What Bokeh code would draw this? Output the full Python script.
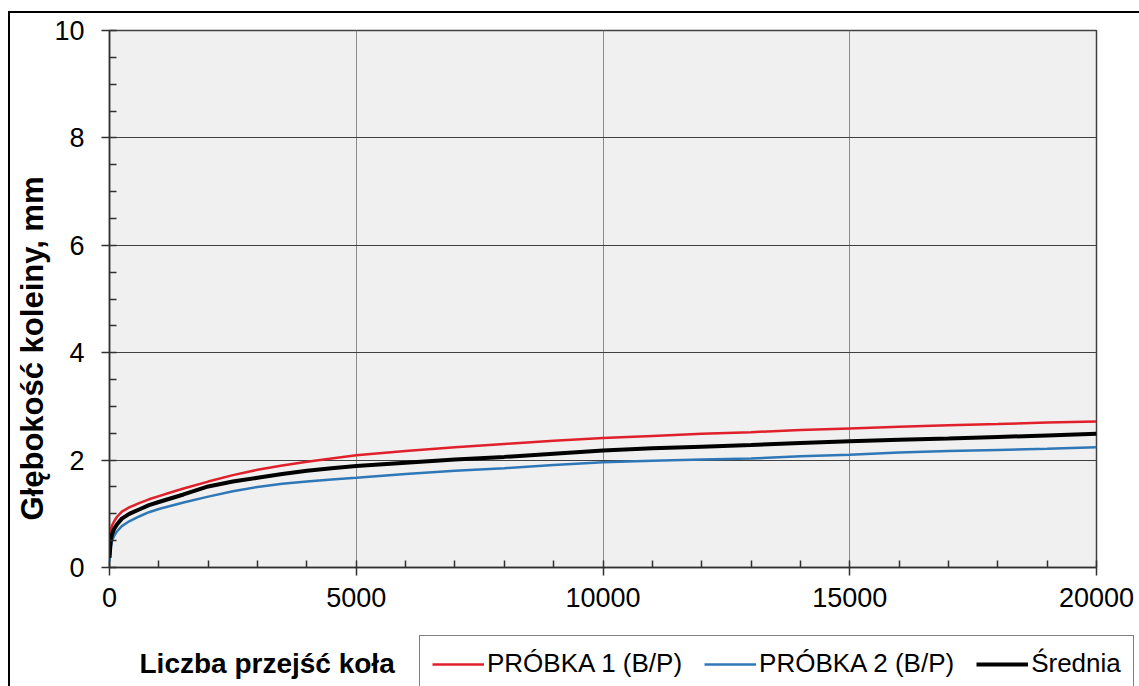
from bokeh.plotting import figure
from bokeh.models import (Range1d, SingleIntervalTicker, Legend, LegendItem, Label, Title, Spacer)
from bokeh.layouts import column, row
from bokeh.embed import file_html
from bokeh.resources import INLINE

# ---- data ----
passes = [0, 25, 50, 100, 150, 250, 400, 600, 800, 1000, 1250, 1500, 2000, 2500, 3000, 3500,
          4000, 4500, 5000, 6000, 7000, 8000, 9000, 10000, 11000, 12000, 13000, 14000,
          15000, 16000, 17000, 18000, 19000, 20000]
probka1 = [0.55, 0.70, 0.78, 0.87, 0.94, 1.04, 1.12, 1.20, 1.27, 1.33, 1.40, 1.47, 1.60, 1.72,
           1.82, 1.90, 1.97, 2.03, 2.09, 2.17, 2.24, 2.30, 2.36, 2.41, 2.45, 2.49, 2.52, 2.56,
           2.59, 2.62, 2.65, 2.67, 2.70, 2.72]
probka2 = [0.12, 0.38, 0.50, 0.60, 0.67, 0.77, 0.86, 0.95, 1.03, 1.09, 1.15, 1.21, 1.32, 1.42,
           1.50, 1.56, 1.60, 1.64, 1.67, 1.74, 1.80, 1.85, 1.91, 1.96, 1.99, 2.01, 2.03, 2.07,
           2.10, 2.14, 2.17, 2.19, 2.21, 2.24]
srednia = [0.18, 0.50, 0.62, 0.73, 0.80, 0.91, 1.00, 1.08, 1.16, 1.22, 1.29, 1.36, 1.51, 1.60,
           1.67, 1.74, 1.80, 1.85, 1.89, 1.95, 2.01, 2.06, 2.12, 2.18, 2.22, 2.25, 2.28, 2.32,
           2.35, 2.38, 2.40, 2.43, 2.46, 2.49]
series = [probka1, probka2, srednia]
series_names = ["PRÓBKA 1 (B/P)", "PRÓBKA 2 (B/P)", "Średnia"]
series_colors = ["#E0202A", "#2F78B8", "black"]
series_widths = [2.5, 2.5, 4]
x_title = "Liczba przejść koła"
y_title = "Głębokość koleiny, mm"

FONT = "Liberation Sans"

# ---------------- main chart ----------------
p = figure(width=1129, height=607, output_backend="svg", toolbar_location=None,
           x_range=Range1d(0, 20000), y_range=Range1d(0, 10),
           min_border_left=97, min_border_right=43, min_border_top=17, min_border_bottom=53)
p.background_fill_color = "#F0F0F0"
p.border_fill_color = "white"
p.outline_line_color = "#404040"
p.outline_line_width = 1.5

p.xaxis.ticker = SingleIntervalTicker(interval=5000, num_minor_ticks=5)
p.yaxis.ticker = SingleIntervalTicker(interval=2, num_minor_ticks=4)
for ax in (p.xaxis[0], p.yaxis[0]):
    ax.axis_line_color = "#303030"
    ax.axis_line_width = 1.5
    ax.major_tick_line_color = "#303030"
    ax.major_tick_line_width = 1.5
    ax.minor_tick_line_color = "#303030"
    ax.minor_tick_line_width = 1.5
    ax.major_tick_in = 0
    ax.major_tick_out = 8
    ax.minor_tick_in = 7
    ax.minor_tick_out = 0
    ax.major_label_text_font = FONT
    ax.major_label_text_font_size = "27px"
    ax.major_label_text_color = "black"
p.yaxis.major_label_standoff = 17
p.xaxis.major_label_standoff = 12

p.xgrid.grid_line_color = "#8a8a8a"
p.xgrid.grid_line_width = 1
p.ygrid.grid_line_color = "#404040"
p.ygrid.grid_line_width = 1

for ys, col, w in zip(series, series_colors, series_widths):
    p.line(passes, ys, line_color=col, line_width=w)

p.add_layout(Title(text=y_title, align="left", offset=47, text_font=FONT,
                   text_font_style="bold", text_font_size="31px", text_color="black",
                   standoff=4), "left")

# ---------------- bottom strip: axis title + legend ----------------
# (separate root so that its frame is not aligned to the chart's frame)
q = figure(width=1129, height=66, output_backend="svg", toolbar_location=None,
           x_range=Range1d(-2, -1), y_range=Range1d(-2, -1),
           x_axis_location=None, y_axis_location=None,
           min_border=0, min_border_left=0, min_border_right=0,
           min_border_top=0, min_border_bottom=0)
q.outline_line_color = None
q.background_fill_color = "white"
q.border_fill_color = "white"
q.xgrid.visible = False
q.ygrid.visible = False

items = []
for ys, name, col, w in zip(series, series_names, series_colors, series_widths):
    # legend proxies: same series, outside this strip's visible range
    r = q.line(passes, ys, line_color=col, line_width=w)
    items.append(LegendItem(label=name, renderers=[r]))

legend = Legend(items=items, orientation="horizontal", location=(409, -6), margin=0,
                padding=12, spacing=22, label_standoff=3,
                glyph_width=52, glyph_height=22, label_height=22,
                label_text_font=FONT, label_text_font_size="26px", label_text_color="black",
                border_line_color="black", border_line_width=1.5,
                background_fill_color="white", background_fill_alpha=1)
q.add_layout(legend)

q.add_layout(Label(x=129, y=23, x_units="screen", y_units="screen", text=x_title,
                   text_font=FONT, text_font_style="bold", text_font_size="28px",
                   text_align="left", text_baseline="middle", text_color="black"))

# ---------------- outer frame (left and top black edges) ----------------
root1 = column(
    Spacer(width=1139, height=11),
    row(Spacer(width=8, height=609),
        column(Spacer(width=1131, height=2, styles={"background-color": "black"}),
               row(Spacer(width=2, height=607, styles={"background-color": "black"}), p))))
root2 = row(Spacer(width=8, height=66),
            Spacer(width=2, height=66, styles={"background-color": "black"}),
            q)

open("out.html", "w").write(file_html([root1, root2], INLINE))
